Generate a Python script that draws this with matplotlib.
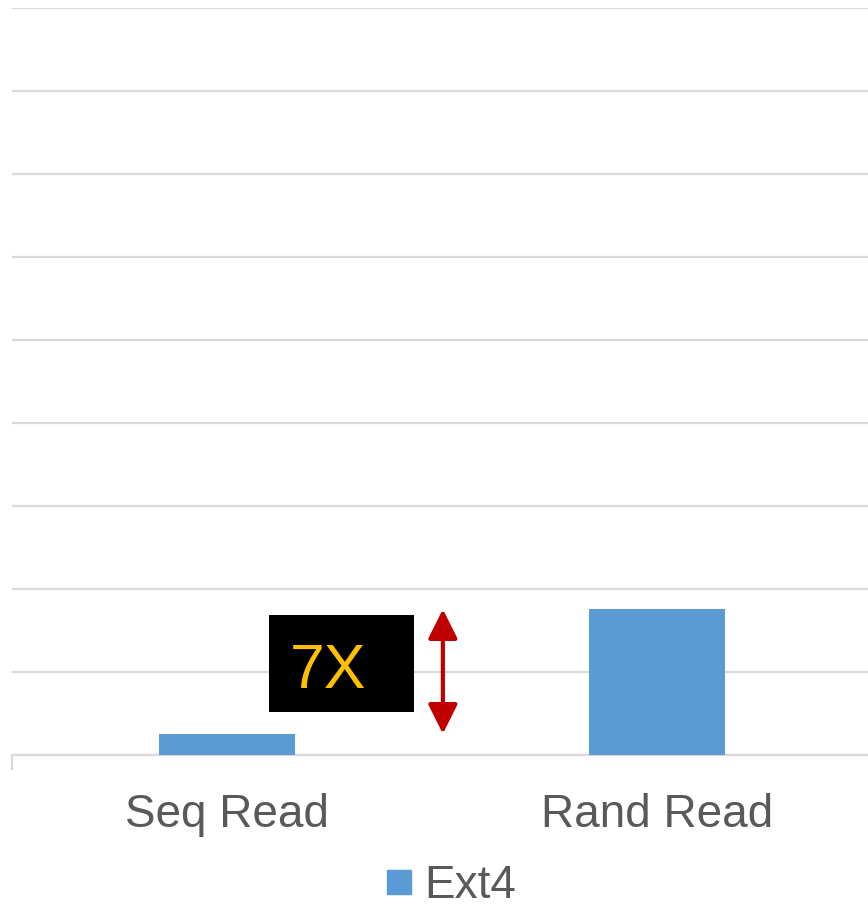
import matplotlib
matplotlib.use("Agg")
import matplotlib.pyplot as plt
from matplotlib.patches import FancyArrowPatch, Rectangle
from matplotlib.lines import Line2D

categories = ["Seq Read", "Rand Read"]
ext4_values = [0.25, 1.75]
series_name = "Ext4"
ratio_label = "7X"

FONT = ["Liberation Sans", "DejaVu Sans"]
plt.rcParams["font.family"] = FONT

W, H = 868, 910
fig = plt.figure(figsize=(W / 100, H / 100), dpi=100)
left_px, right_px = 12, 872
top_px, base_px = 7.5, 754.5
ax = fig.add_axes([left_px / W, (H - base_px) / H,
                   (right_px - left_px) / W, (base_px - top_px) / H])

x = list(range(len(categories)))
ax.bar(x, ext4_values, width=0.314, color="#5B9BD5", zorder=3)
ax.set_xlim(-0.5, len(categories) - 0.5)
ax.set_ylim(0, 9)
ax.set_yticks(range(0, 10))
ax.yaxis.grid(True, color="#D9D9D9", linewidth=1.6, zorder=0)
ax.tick_params(axis="y", left=False, labelleft=False)
for s in ["top", "right", "left"]:
    ax.spines[s].set_visible(False)
ax.spines["bottom"].set_color("#D9D9D9")
ax.spines["bottom"].set_linewidth(1.6)
ax.spines["bottom"].set_zorder(1)

ax.set_xticks(x)
ax.set_xticklabels(categories, fontsize=33, color="#595959")
ax.tick_params(axis="x", length=0, pad=28)
# left category boundary tick
ax.set_xticks([-0.5], minor=True)
ax.tick_params(axis="x", which="minor", length=11, width=1.6, color="#D9D9D9")

# annotation box "7X"
box_l, box_r = 0.098, 0.435
box_b, box_t = 0.512, 1.68
ax.add_patch(Rectangle((box_l, box_b), box_r - box_l, box_t - box_b,
                       facecolor="black", edgecolor="none", zorder=4))
ax.text(0.1465, 0.80, ratio_label, color="#FFC000", fontsize=45,
        ha="left", va="baseline", zorder=5)

arrow = FancyArrowPatch((0.502, ext4_values[0]), (0.502, ext4_values[1]),
                        arrowstyle="<|-|>,head_length=0.9,head_width=0.45",
                        mutation_scale=20, color="#C00000", lw=3,
                        shrinkA=0, shrinkB=0, zorder=5)
ax.add_patch(arrow)

handle = Line2D([], [], marker="s", linestyle="none", markersize=17,
                markerfacecolor="#5B9BD5", markeredgecolor="#5B9BD5")
fig.legend([handle], [series_name], loc="center",
           bbox_to_anchor=(448 / W, 1 - 886 / H), frameon=False,
           fontsize=33, labelcolor="#595959", handletextpad=0.15,
           handlelength=0.8, borderpad=0.2)

fig.savefig("out.png", dpi=100)
